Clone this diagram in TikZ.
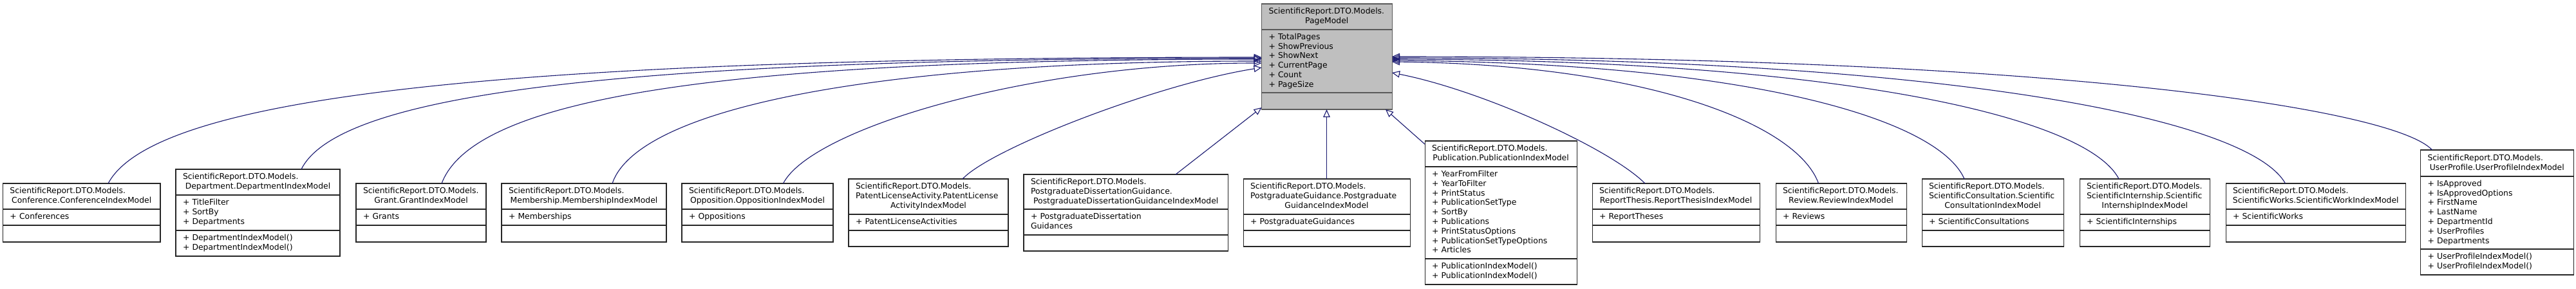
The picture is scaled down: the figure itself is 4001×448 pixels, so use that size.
\documentclass[tikz,border=0pt]{standalone}
\usepackage{fontspec}
\setmainfont{DejaVu Sans}
\usetikzlibrary{arrows.meta}
\definecolor{edgeblue}{HTML}{191970}
\definecolor{pagegray}{HTML}{BFBFBF}
\definecolor{pageborder}{HTML}{5A5A5A}
\hyphenpenalty=10000
\exhyphenpenalty=10000
\newcommand\clsfont{\fontsize{12.4}{14.8}\selectfont}
\newcommand\clsstrut{\rule[-4.2pt]{0pt}{14.8pt}}
\tikzset{
  clsbox/.style={draw=black!85, fill=white, line width=1.05pt, inner sep=0pt, outer sep=0pt},
  curbox/.style={draw=pageborder, fill=pagegray, line width=1.05pt, inner sep=0pt, outer sep=0pt},
  txt/.style={inner sep=0pt, outer sep=0pt, align=left, font=\clsfont},
  inh/.style={draw=edgeblue, line width=1.1pt, -{Triangle[open, length=12pt, width=10.5pt]}},
}
\newcommand\cls[8][clsbox]{%
  \node[#1, minimum width={#5-#3}, minimum height={#6-#4}] (#2) at ({(#3+#5)/2},{(#4+#6)/2}) {};
  \draw[#1, fill=none] (#3,#7) -- (#5,#7) (#3,#8) -- (#5,#8);
  \coordinate (#2-t) at ({(#3+#5)/2},{(#4+#7)/2});
  \coordinate (#2-a) at ({(#3+#5)/2},{(#7+#8)/2});
  \coordinate (#2-m) at ({(#3+#5)/2},{(#8+#6)/2});
  \pgfmathsetmacro\clstw{#5-#3-22}%
  \expandafter\xdef\csname clstw#2\endcsname{\clstw}%
}
\newcommand\ctitle[3]{\node[txt, text width=\csname clstw#1\endcsname pt] (#1-title) at (#1-t) {\clsstrut#2\hbox to \linewidth{\hss#3\clsstrut\hss}};}
\newcommand\cattr[2]{\node[txt, text width=\csname clstw#1\endcsname pt] (#1-attrs) at (#1-a) {\clsstrut#2\clsstrut};}
\newcommand\cmeth[2]{\node[txt, text width=\csname clstw#1\endcsname pt] (#1-meths) at (#1-m) {\clsstrut#2\clsstrut};}
\begin{document}
\begin{tikzpicture}[x=1pt, y=-1pt]
\useasboundingbox (0,0) rectangle (4001,448);
\fill[white] (0,0) rectangle (4001,448);

% base class
\cls[curbox]{page}{1959.5}{6}{2162}{170}{46}{144}
\ctitle{page}{ScientificReport.DTO.Models.\\}{PageModel}
\cattr{page}{+ TotalPages\\+ ShowPrevious\\+ ShowNext\\+ CurrentPage\\+ Count\\+ PageSize}

% derived classes
\cls{conf}{4.5}{285}{249}{376}{325}{350}
\ctitle{conf}{ScientificReport.DTO.Models.\\}{Conference.ConferenceIndexModel}
\cattr{conf}{+ Conferences}

\cls{dept}{273}{263}{528}{398}{303}{358}
\ctitle{dept}{ScientificReport.DTO.Models.\\}{Department.DepartmentIndexModel}
\cattr{dept}{+ TitleFilter\\+ SortBy\\+ Departments}
\cmeth{dept}{+ DepartmentIndexModel()\\+ DepartmentIndexModel()}

\cls{grant}{553}{285}{755}{376}{325}{350}
\ctitle{grant}{ScientificReport.DTO.Models.\\}{Grant.GrantIndexModel}
\cattr{grant}{+ Grants}

\cls{memb}{779}{285}{1035}{376}{325}{350}
\ctitle{memb}{ScientificReport.DTO.Models.\\}{Membership.MembershipIndexModel}
\cattr{memb}{+ Memberships}

\cls{oppo}{1059}{285}{1294}{376}{325}{350}
\ctitle{oppo}{ScientificReport.DTO.Models.\\}{Opposition.OppositionIndexModel}
\cattr{oppo}{+ Oppositions}

\cls{patent}{1318}{278}{1566}{383}{333}{358}
\ctitle{patent}{ScientificReport.DTO.Models.\\PatentLicenseActivity.PatentLicense\\}{ActivityIndexModel}
\cattr{patent}{+ PatentLicenseActivities}

\cls{pgdiss}{1590}{271}{1907.5}{390}{325}{365}
\ctitle{pgdiss}{ScientificReport.DTO.Models.\\PostgraduateDissertationGuidance.\\}{PostgraduateDissertationGuidanceIndexModel}
\cattr{pgdiss}{+ PostgraduateDissertation\\Guidances}

\cls{pgguid}{1931}{278}{2190}{383}{333}{358}
\ctitle{pgguid}{ScientificReport.DTO.Models.\\PostgraduateGuidance.Postgraduate\\}{GuidanceIndexModel}
\cattr{pgguid}{+ PostgraduateGuidances}

\cls{pub}{2213}{219}{2449}{442}{259}{402}
\ctitle{pub}{ScientificReport.DTO.Models.\\}{Publication.PublicationIndexModel}
\cattr{pub}{+ YearFromFilter\\+ YearToFilter\\+ PrintStatus\\+ PublicationSetType\\+ SortBy\\+ Publications\\+ PrintStatusOptions\\+ PublicationSetTypeOptions\\+ Articles}
\cmeth{pub}{+ PublicationIndexModel()\\+ PublicationIndexModel()}

\cls{rthesis}{2473}{285}{2733}{376}{325}{350}
\ctitle{rthesis}{ScientificReport.DTO.Models.\\}{ReportThesis.ReportThesisIndexModel}
\cattr{rthesis}{+ ReportTheses}

\cls{review}{2758}{285}{2961}{376}{325}{350}
\ctitle{review}{ScientificReport.DTO.Models.\\}{Review.ReviewIndexModel}
\cattr{review}{+ Reviews}

\cls{sconsult}{2985}{278}{3205}{383}{333}{358}
\ctitle{sconsult}{ScientificReport.DTO.Models.\\ScientificConsultation.Scientific\\}{ConsultationIndexModel}
\cattr{sconsult}{+ ScientificConsultations}

\cls{sintern}{3230}{278}{3432.5}{383}{333}{358}
\ctitle{sintern}{ScientificReport.DTO.Models.\\ScientificInternship.Scientific\\}{InternshipIndexModel}
\cattr{sintern}{+ ScientificInternships}

\cls{sworks}{3457}{285}{3736.5}{376}{325}{350}
\ctitle{sworks}{ScientificReport.DTO.Models.\\}{ScientificWorks.ScientificWorkIndexModel}
\cattr{sworks}{+ ScientificWorks}

\cls{uprof}{3759.5}{233}{3997}{427}{274}{387}
\ctitle{uprof}{ScientificReport.DTO.Models.\\}{UserProfile.UserProfileIndexModel}
\cattr{uprof}{+ IsApproved\\+ IsApprovedOptions\\+ FirstName\\+ LastName\\+ DepartmentId\\+ UserProfiles\\+ Departments}
\cmeth{uprof}{+ UserProfileIndexModel()\\+ UserProfileIndexModel()}

% inheritance edges
\draw[inh] ([xshift=41.25pt]conf.north) .. controls (241,148) and (796,89) .. ([yshift=-1pt]page.west);
\draw[inh] ([xshift=67.5pt]dept.north) .. controls (528,142) and (990,90.5) .. ([yshift=-2.5pt]page.west);
\draw[inh] ([xshift=32pt]grant.north) .. controls (737,150) and (1132,92) .. ([yshift=-4pt]page.west);
\draw[inh] ([xshift=44pt]memb.north) .. controls (990,170) and (1350,95) .. ([yshift=-7pt]page.west);
\draw[inh] ([xshift=40pt]oppo.north) .. controls (1260,200) and (1600,98) .. ([yshift=-10pt]page.west);
\draw[inh] ([xshift=53pt]patent.north) .. controls (1540,230) and (1800,130) .. ([yshift=-17pt]page.west);
\draw[inh] ([xshift=77.25pt]pgdiss.north) -- ([yshift=3pt]page.south west);
\draw[inh] (pgguid.north) -- (pgguid.north |- page.south);
\draw[inh] ([yshift=106.5pt]pub.west) -- ([xshift=-10pt]page.south east);
\draw[inh] ([xshift=-48pt]rthesis.north) .. controls (2500,230) and (2300,140) .. ([yshift=-25pt]page.east);
\draw[inh] ([xshift=-35pt]review.north) .. controls (2790,190) and (2550,100) .. ([yshift=-8pt]page.east);
\draw[inh] ([xshift=-44pt]sconsult.north) .. controls (3010,185) and (2720,98) .. ([yshift=-6pt]page.east);
\draw[inh] ([xshift=-40.25pt]sintern.north) .. controls (3240,180) and (2850,93) .. ([yshift=-4pt]page.east);
\draw[inh] ([xshift=-47.25pt]sworks.north) .. controls (3490,180) and (3000,90) .. ([yshift=-2pt]page.east);
\draw[inh] ([xshift=-100.75pt]uprof.north) .. controls (3720,170) and (3200,88) .. (page.east);
\end{tikzpicture}
\end{document}
